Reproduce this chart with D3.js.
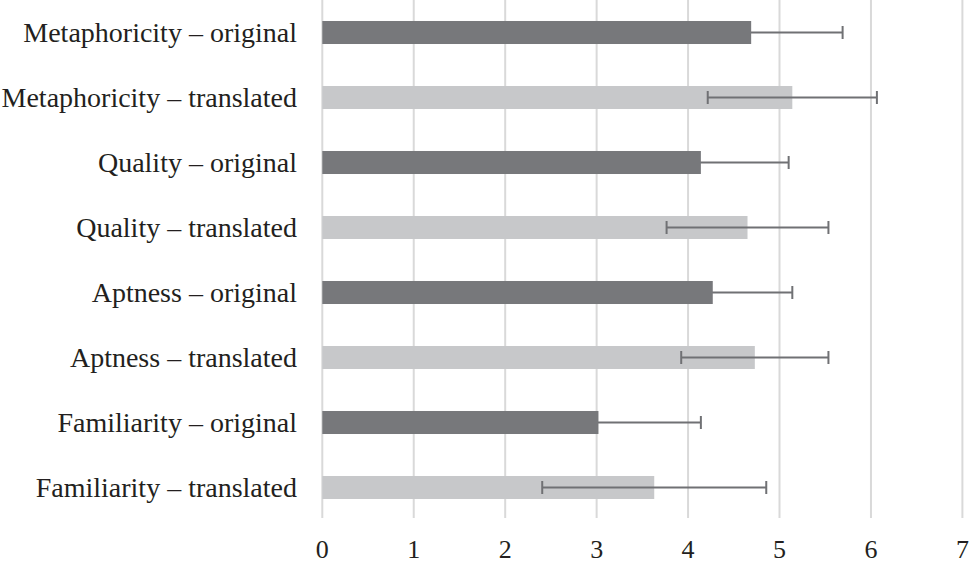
<!DOCTYPE html>
<html><head><meta charset="utf-8">
<script src="https://cdn.jsdelivr.net/npm/d3@7"></script>
<style>body{margin:0;background:#fff}svg{display:block}</style>
</head><body>
<svg id="c" width="969" height="565"></svg>
<script>
const categories = ["Metaphoricity – original","Metaphoricity – translated","Quality – original","Quality – translated","Aptness – original","Aptness – translated","Familiarity – original","Familiarity – translated"];
const means = [4.69, 5.14, 4.14, 4.65, 4.27, 4.73, 3.02, 3.63];
const sds = [1.00, 0.925, 0.96, 0.885, 0.87, 0.805, 1.12, 1.225];
const kinds = ["original","translated","original","translated","original","translated","original","translated"];
const xTicks = [0,1,2,3,4,5,6,7];

const svg = d3.select("#c");
const x = d3.scaleLinear().domain([0,7]).range([322.3, 962.4]);
const y = d3.scaleBand().domain(categories).range([0, 520]).paddingInner(0.646).paddingOuter(0.323);
const color = {original:"#77787b", translated:"#c7c8ca"};
const font = "'Liberation Serif', 'Times New Roman', serif";

// gridlines
svg.append("g").selectAll("line").data(xTicks).join("line")
  .attr("x1", d=>x(d)).attr("x2", d=>x(d)).attr("y1",0).attr("y2",518)
  .attr("stroke","#d9d9d9").attr("stroke-width",2);

// error bars drawn behind bars (hidden part under dark bars)
const ebBack = svg.append("g").attr("stroke","#707174").attr("stroke-width",2).attr("fill","none");
// bars
svg.append("g").selectAll("rect").data(categories).join("rect")
  .attr("x", x(0)).attr("y", d=>y(d))
  .attr("width", (d,i)=>x(means[i])-x(0)).attr("height", y.bandwidth())
  .attr("fill", (d,i)=>color[kinds[i]]);
const ebFront = svg.append("g").attr("stroke","#707174").attr("stroke-width",2).attr("fill","none");

categories.forEach((c,i)=>{
  const g = kinds[i]==="original" ? ebBack : ebFront;
  const cy = y(c)+y.bandwidth()/2;
  const lo = x(means[i]-sds[i]), hi = x(means[i]+sds[i]);
  g.append("line").attr("x1",lo).attr("x2",hi).attr("y1",cy).attr("y2",cy);
  g.append("line").attr("x1",lo).attr("x2",lo).attr("y1",cy-6.5).attr("y2",cy+6.5);
  g.append("line").attr("x1",hi).attr("x2",hi).attr("y1",cy-6.5).attr("y2",cy+6.5);
});

// category labels
svg.append("g").selectAll("text").data(categories).join("text")
  .attr("x", 297).attr("y", d=>y(d)+y.bandwidth()/2)
  .attr("dy","0.35em").attr("text-anchor","end")
  .attr("font-family",font).attr("font-size",28).attr("fill","#231f20")
  .text(d=>d);

// x tick labels
svg.append("g").selectAll("text").data(xTicks).join("text")
  .attr("x", d=>x(d)).attr("y", 549).attr("dy","0.35em").attr("text-anchor","middle")
  .attr("font-family",font).attr("font-size",26).attr("fill","#231f20")
  .text(d=>d);
</script>
</body></html>
